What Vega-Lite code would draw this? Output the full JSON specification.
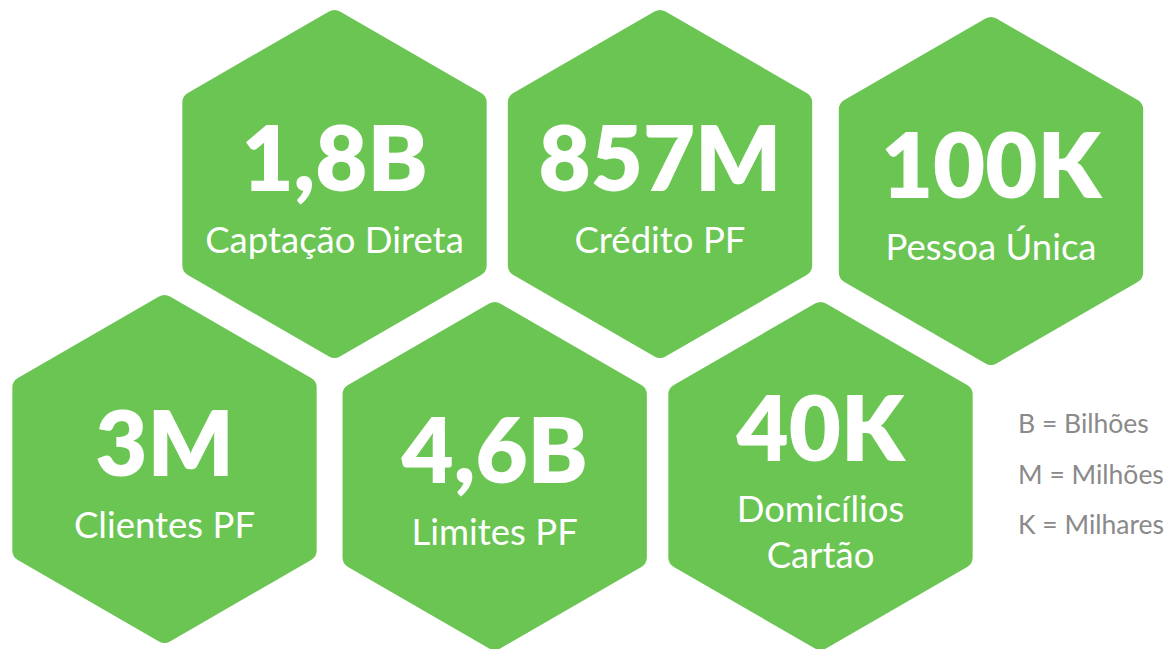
{
  "$schema": "https://vega.github.io/schema/vega-lite/v6.json",
  "width": 1171,
  "height": 649,
  "padding": 0,
  "autosize": {"type": "none"},
  "background": "#ffffff",
  "config": {"view": {"stroke": null}},
  "datasets": {
    "hex": [
      {"value": "1,8B", "label": "Captação Direta", "cx": 334.5, "cy": 184},
      {"value": "857M", "label": "Crédito PF", "cx": 660, "cy": 184},
      {"value": "100K", "label": "Pessoa Única", "cx": 991, "cy": 191},
      {"value": "3M", "label": "Clientes PF", "cx": 164.5, "cy": 469},
      {"value": "4,6B", "label": "Limites PF", "cx": 494.7, "cy": 476},
      {"value": "40K", "label": "Domicílios\nCartão", "cx": 820.5, "cy": 476}
    ],
    "legend": [
      {"text": "B = Bilhões", "lx": 1018, "ly": 433},
      {"text": "M = Milhões", "lx": 1018, "ly": 484},
      {"text": "K = Milhares", "lx": 1018, "ly": 534}
    ]
  },
  "layer": [
    {
      "data": {"name": "hex"},
      "mark": {
        "type": "point",
        "shape": "M0,-1L0.8660254,-0.5L0.8660254,0.5L0,1L-0.8660254,0.5L-0.8660254,-0.5Z",
        "filled": true,
        "size": 106276,
        "color": "#6AC553",
        "stroke": "#6AC553",
        "strokeWidth": 22,
        "strokeJoin": "round",
        "opacity": 1
      },
      "encoding": {
        "x": {"field": "cx", "type": "quantitative", "scale": {"domain": [0, 1171], "nice": false, "zero": false}, "axis": null},
        "y": {"field": "cy", "type": "quantitative", "scale": {"domain": [0, 649], "nice": false, "zero": false, "reverse": true}, "axis": null}
      }
    },
    {
      "data": {"name": "hex"},
      "transform": [{"filter": "indexof(datum.label, '\\n') < 0"}],
      "mark": {"type": "text", "font": "Lato", "fontWeight": 800, "fontSize": 90, "color": "#ffffff", "align": "center", "baseline": "alphabetic", "dy": 7},
      "encoding": {
        "x": {"field": "cx", "type": "quantitative"},
        "y": {"field": "cy", "type": "quantitative"},
        "text": {"field": "value"}
      }
    },
    {
      "data": {"name": "hex"},
      "transform": [{"filter": "indexof(datum.label, '\\n') < 0"}],
      "mark": {"type": "text", "font": "Lato", "fontWeight": 400, "fontSize": 36.5, "color": "#ffffff", "align": "center", "baseline": "alphabetic", "dy": 68.5},
      "encoding": {
        "x": {"field": "cx", "type": "quantitative"},
        "y": {"field": "cy", "type": "quantitative"},
        "text": {"field": "label"}
      }
    },
    {
      "data": {"name": "hex"},
      "transform": [{"filter": "indexof(datum.label, '\\n') >= 0"}],
      "mark": {"type": "text", "font": "Lato", "fontWeight": 800, "fontSize": 90, "color": "#ffffff", "align": "center", "baseline": "alphabetic", "dy": -15.3},
      "encoding": {
        "x": {"field": "cx", "type": "quantitative"},
        "y": {"field": "cy", "type": "quantitative"},
        "text": {"field": "value"}
      }
    },
    {
      "data": {"name": "hex"},
      "transform": [{"filter": "indexof(datum.label, '\\n') >= 0"}],
      "mark": {"type": "text", "font": "Lato", "fontWeight": 400, "fontSize": 36.5, "color": "#ffffff", "align": "center", "baseline": "alphabetic", "dy": 45.7, "lineBreak": "\n", "lineHeight": 46},
      "encoding": {
        "x": {"field": "cx", "type": "quantitative"},
        "y": {"field": "cy", "type": "quantitative"},
        "text": {"field": "label"}
      }
    },
    {
      "data": {"name": "legend"},
      "mark": {"type": "text", "font": "Lato", "fontWeight": 400, "fontSize": 26.5, "color": "#8A8A8A", "align": "left", "baseline": "alphabetic"},
      "encoding": {
        "x": {"field": "lx", "type": "quantitative"},
        "y": {"field": "ly", "type": "quantitative"},
        "text": {"field": "text"}
      }
    }
  ]
}
